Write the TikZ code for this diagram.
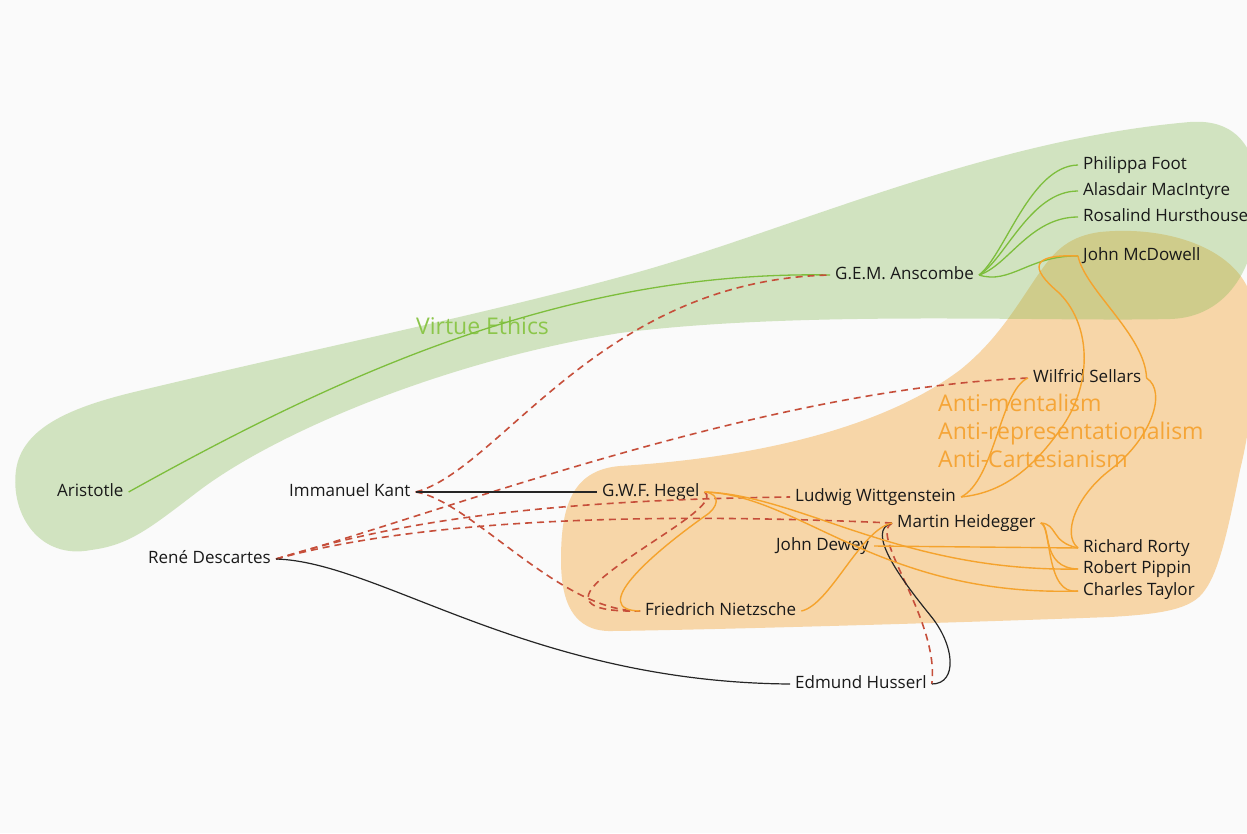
\documentclass[tikz,border=0pt]{standalone}
\usepackage{fontspec}
\setmainfont{Open Sans}
\usetikzlibrary{calc}
\definecolor{bg}{RGB}{250,250,250}
\definecolor{txt}{RGB}{25,25,25}
\definecolor{gfill}{RGB}{135,186,86}
\definecolor{ofill}{RGB}{247,214,168}
\definecolor{gline}{RGB}{125,190,60}
\definecolor{oline}{RGB}{245,163,45}
\definecolor{rline}{RGB}{198,78,58}
\definecolor{glab}{RGB}{140,198,75}
\definecolor{olab}{RGB}{245,165,55}
\begin{document}
\begin{tikzpicture}[x=1pt,y=-1pt,
  person/.style={anchor=west, inner xsep=5pt, inner ysep=0pt, text height=12pt, text depth=3pt,
    font=\fontsize{17}{20}\selectfont, text=txt},
  grp/.style={anchor=west, inner sep=0pt, align=left},
  gcon/.style={draw=gline, line width=1.3pt},
  ocon/.style={draw=oline, line width=1.4pt},
  rcon/.style={draw=rline, line width=1.6pt, dash pattern=on 7pt off 5pt},
  bcon/.style={draw=black!85, line width=1.2pt}]
\useasboundingbox (0,0) rectangle (1247,833);
\clip (0,0) rectangle (1247,833);
\fill[bg] (0,0) rectangle (1247,833);

% orange region
\fill[ofill] (1100,232) .. controls (1170,225) and (1240,250) .. (1252,300)
  .. controls (1260,360) and (1250,430) .. (1240,470)
  .. controls (1230,520) and (1220,570) .. (1205,590)
  .. controls (1192,610) and (1160,614) .. (1110,617)
  .. controls (950,623) and (700,630) .. (612,631)
  .. controls (572,632) and (561,600) .. (561,560)
  .. controls (561,510) and (570,470) .. (620,466)
  .. controls (750,458) and (880,430) .. (960,370)
  .. controls (1000,338) and (1020,300) .. (1040,272)
  .. controls (1055,250) and (1070,236) .. (1100,232) -- cycle;

% green region
\fill[gfill, opacity=0.35] (91,550)
  .. controls (40,560) and (10,515) .. (16,470)
  .. controls (22,428) and (70,408) .. (130,393)
  .. controls (300,352) and (480,315) .. (620,277)
  .. controls (780,235) and (980,140) .. (1190,122)
  .. controls (1245,118) and (1262,160) .. (1258,215)
  .. controls (1252,285) and (1215,318) .. (1170,319)
  .. controls (1050,322) and (800,310) .. (620,333)
  .. controls (450,360) and (280,430) .. (200,490)
  .. controls (150,528) and (130,545) .. (91,550) -- cycle;

% group labels
\node[grp, text=glab, font=\fontsize{23}{26}\selectfont] (ve) at (416,326) {Virtue Ethics};
\node[grp, text=olab, font=\fontsize{23}{28}\selectfont] (anti) at (938,431)
  {Anti-mentalism\\Anti-representationalism\\Anti-Cartesianism};

% people
\node[person] (ari) at (52,492) {Aristotle};
\node[person] (kant) at (284,492) {Immanuel Kant};
\node[person] (desc) at (143,559) {René Descartes};
\node[person] (ans) at (830,275) {G.E.M. Anscombe};
\node[person] (foot) at (1078,165) {Philippa Foot};
\node[person] (mac) at (1078,191) {Alasdair MacIntyre};
\node[person] (hurst) at (1078,217) {Rosalind Hursthouse};
\node[person] (mcd) at (1078,256) {John McDowell};
\node[person] (sell) at (1028,378) {Wilfrid Sellars};
\node[person] (hegel) at (597,492) {G.W.F. Hegel};
\node[person] (witt) at (790,497) {Ludwig Wittgenstein};
\node[person] (heid) at (892,523) {Martin Heidegger};
\node[person] (dewey) at (771,546) {John Dewey};
\node[person] (rorty) at (1078,548) {Richard Rorty};
\node[person] (pippin) at (1078,569) {Robert Pippin};
\node[person] (taylor) at (1078,591) {Charles Taylor};
\node[person] (nietz) at (640,611) {Friedrich Nietzsche};
\node[person] (huss) at (790,684) {Edmund Husserl};

% green connectors
\draw[gcon] (ari.east) .. controls (330,380) and (560,270) .. (ans.west);
\draw[gcon] (ans.east) .. controls (1005,255) and (1030,166) .. (foot.west);
\draw[gcon] (ans.east) .. controls (1005,260) and (1030,191) .. (mac.west);
\draw[gcon] (ans.east) .. controls (1008,266) and (1030,217) .. (hurst.west);
\draw[gcon] (ans.east) .. controls (1010,285) and (1030,255) .. (mcd.west);

% red dashed connectors
\draw[rcon] (kant.east) .. controls (500,470) and (600,280) .. (ans.west);
\draw[rcon] (kant.east) .. controls (470,500) and (560,612) .. (nietz.west);
\draw[rcon] (hegel.east) .. controls (722,505) and (640,545) .. (600,580)
  .. controls (575,602) and (590,612) .. (nietz.west);
\draw[rcon] (desc.east) .. controls (450,510) and (760,390) .. (sell.west);
\draw[rcon] (desc.east) .. controls (400,520) and (550,500) .. (witt.west);
\draw[rcon] (desc.east) .. controls (400,525) and (600,510) .. (heid.west);
\draw[rcon] (heid.west) .. controls (868,535) and (940,620) .. (huss.east);

% black connectors
\draw[bcon] (kant.east) -- (hegel.west);
\draw[bcon] (desc.east) .. controls (380,562) and (530,682) .. (huss.west);
\draw[bcon] (huss.east) .. controls (958,684) and (955,645) .. (930,615)
  .. controls (900,578) and (865,530) .. (heid.west);

% orange connectors
\draw[ocon] (mcd.west) .. controls (1030,254) and (1030,268) .. (1058,292)
  .. controls (1090,322) and (1095,382) .. (1060,430)
  .. controls (1030,472) and (1000,493) .. (witt.east);
\draw[ocon] (mcd.west) .. controls (1085,290) and (1145,335) .. (sell.east);
\draw[ocon] (sell.east) .. controls (1168,392) and (1150,440) .. (1110,470)
  .. controls (1075,497) and (1062,535) .. (rorty.west);
\draw[ocon] (sell.west) .. controls (1000,390) and (995,480) .. (witt.east);
\draw[ocon] (hegel.east) .. controls (722,494) and (718,508) .. (705,516)
  .. controls (650,555) and (588,610) .. (nietz.west);
\draw[ocon] (nietz.east) .. controls (830,605) and (860,530) .. (heid.west);
\draw[ocon] (hegel.east) .. controls (800,495) and (900,572) .. (pippin.west);
\draw[ocon] (hegel.east) .. controls (800,495) and (880,597) .. (taylor.west);
\draw[ocon] (dewey.east) -- (rorty.west);
\draw[ocon] (heid.east) .. controls (1058,524) and (1050,542) .. (rorty.west);
\draw[ocon] (heid.east) .. controls (1052,526) and (1040,568) .. (pippin.west);
\draw[ocon] (heid.east) .. controls (1052,526) and (1045,596) .. (taylor.west);
\end{tikzpicture}
\end{document}
